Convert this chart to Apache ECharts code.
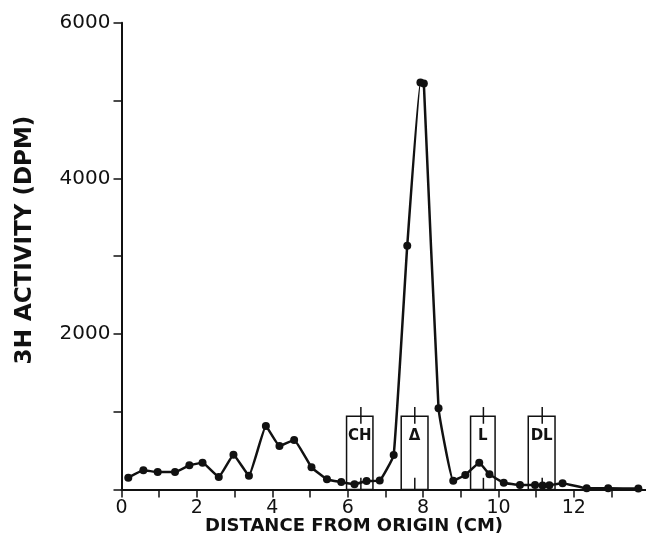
<!DOCTYPE html>
<html>
<head>
<meta charset="utf-8">
<script src="https://cdn.jsdelivr.net/npm/echarts@6/dist/echarts.min.js"></script>
<style>
  html, body { margin: 0; padding: 0; background: #fff; }
  #chart { width: 646px; height: 537px; }
</style>
</head>
<body>
<div id="chart"></div>
<script>
// distance from origin (cm) and 3H activity (dpm)
const distance = [0.18, 0.58, 0.96, 1.42, 1.80, 2.15, 2.58, 2.97, 3.38, 3.83, 4.19, 4.58,
  5.04, 5.45, 5.83, 6.18, 6.50, 6.85, 7.22, 7.58, 7.93, 8.02, 8.41, 8.80, 9.12, 9.49,
  9.76, 10.14, 10.57, 10.97, 11.17, 11.35, 11.70, 12.34, 12.91, 13.71];
const activity = [152, 247, 225, 225, 311, 344, 161, 447, 177, 816, 559, 636,
  285, 131, 96, 67, 109, 116, 443, 3134, 5230, 5220, 1044, 113, 186, 344,
  195, 87, 58, 58, 50, 55, 80, 15, 15, 12];

// marker standards (boxes drawn over the baseline)
const boxLabels = ['CH', 'Δ', 'L', 'DL'];
const boxLeft = [5.97, 7.42, 9.26, 10.79];
const boxRight = [6.67, 8.13, 9.91, 11.50];
const boxMark = [6.35, 7.78, 9.60, 11.16];

const BOX_TOP = 940, MARK_HI = 1060, MARK_LO = 845, MARK_FOOT = 150, LABEL_Y = 680;

const chart = echarts.init(document.getElementById('chart'));

chart.setOption({
  backgroundColor: '#fff',
  animation: false,
  grid: { left: 121.5, right: 0.5, top: 22.7, bottom: 47.5 },
  xAxis: {
    type: 'value',
    min: 0,
    max: 13.9,
    interval: 1,
    splitLine: { show: false },
    axisLine: { lineStyle: { color: '#111', width: 2 } },
    axisTick: { length: 8, lineStyle: { color: '#111', width: 1.5 } },
    axisLabel: {
      margin: 9,
      color: '#111',
      fontFamily: 'DejaVu Sans',
      fontSize: 19,
      showMaxLabel: false,
      formatter: v => (v % 2 === 0 ? String(v) : '')
    }
  },
  yAxis: {
    type: 'value',
    min: 0,
    max: 6000,
    interval: 1000,
    splitLine: { show: false },
    axisLine: { show: true, lineStyle: { color: '#111', width: 2 } },
    axisTick: { show: true, length: 8, lineStyle: { color: '#111', width: 1.5 } },
    axisLabel: {
      margin: 11,
      color: '#111',
      fontFamily: 'DejaVu Sans',
      fontSize: 20,
      formatter: v => (v > 0 && v % 2000 === 0 ? String(v) : '')
    }
  },
  graphic: [
    {
      type: 'text', x: 25, y: 240, rotation: Math.PI / 2,
      style: { text: '3H ACTIVITY (DPM)', fill: '#111', font: 'bold 23px "DejaVu Sans"', align: 'center', verticalAlign: 'middle' }
    },
    {
      type: 'text', x: 354, y: 526,
      style: { text: 'DISTANCE FROM ORIGIN (CM)', fill: '#111', font: 'bold 18px "DejaVu Sans"', align: 'center', verticalAlign: 'middle' }
    }
  ],
  series: [
    {
      type: 'custom',
      z: 1,
      data: boxLabels.map((lab, i) => [boxLeft[i], boxRight[i], boxMark[i]]),
      renderItem: (params, api) => {
        const tl = api.coord([api.value(0), BOX_TOP]);
        const br = api.coord([api.value(1), 0]);
        const hi = api.coord([api.value(2), MARK_HI]);
        const lo = api.coord([api.value(2), MARK_LO]);
        const foot = api.coord([api.value(2), MARK_FOOT]);
        const txt = api.coord([(api.value(0) + api.value(1)) / 2, LABEL_Y]);
        const stroke = { stroke: '#111', lineWidth: 1.5, fill: null };
        return {
          type: 'group',
          children: [
            { type: 'rect', shape: { x: tl[0], y: tl[1], width: br[0] - tl[0], height: br[1] - tl[1] }, style: stroke },
            { type: 'line', shape: { x1: hi[0], y1: hi[1], x2: lo[0], y2: lo[1] }, style: stroke },
            { type: 'line', shape: { x1: foot[0], y1: foot[1], x2: foot[0], y2: br[1] }, style: stroke },
            {
              type: 'text',
              style: {
                text: boxLabels[params.dataIndex], x: txt[0], y: txt[1],
                fill: '#111', font: 'bold 15px "DejaVu Sans"', align: 'center', verticalAlign: 'middle'
              }
            }
          ]
        };
      }
    },
    {
      type: 'line',
      z: 3,
      data: distance.map((d, i) => [d, activity[i]]),
      smooth: 0.1,
      symbol: 'circle',
      symbolSize: 8,
      lineStyle: { color: '#111', width: 2.5 },
      itemStyle: { color: '#111' }
    }
  ]
});
</script>
</body>
</html>
